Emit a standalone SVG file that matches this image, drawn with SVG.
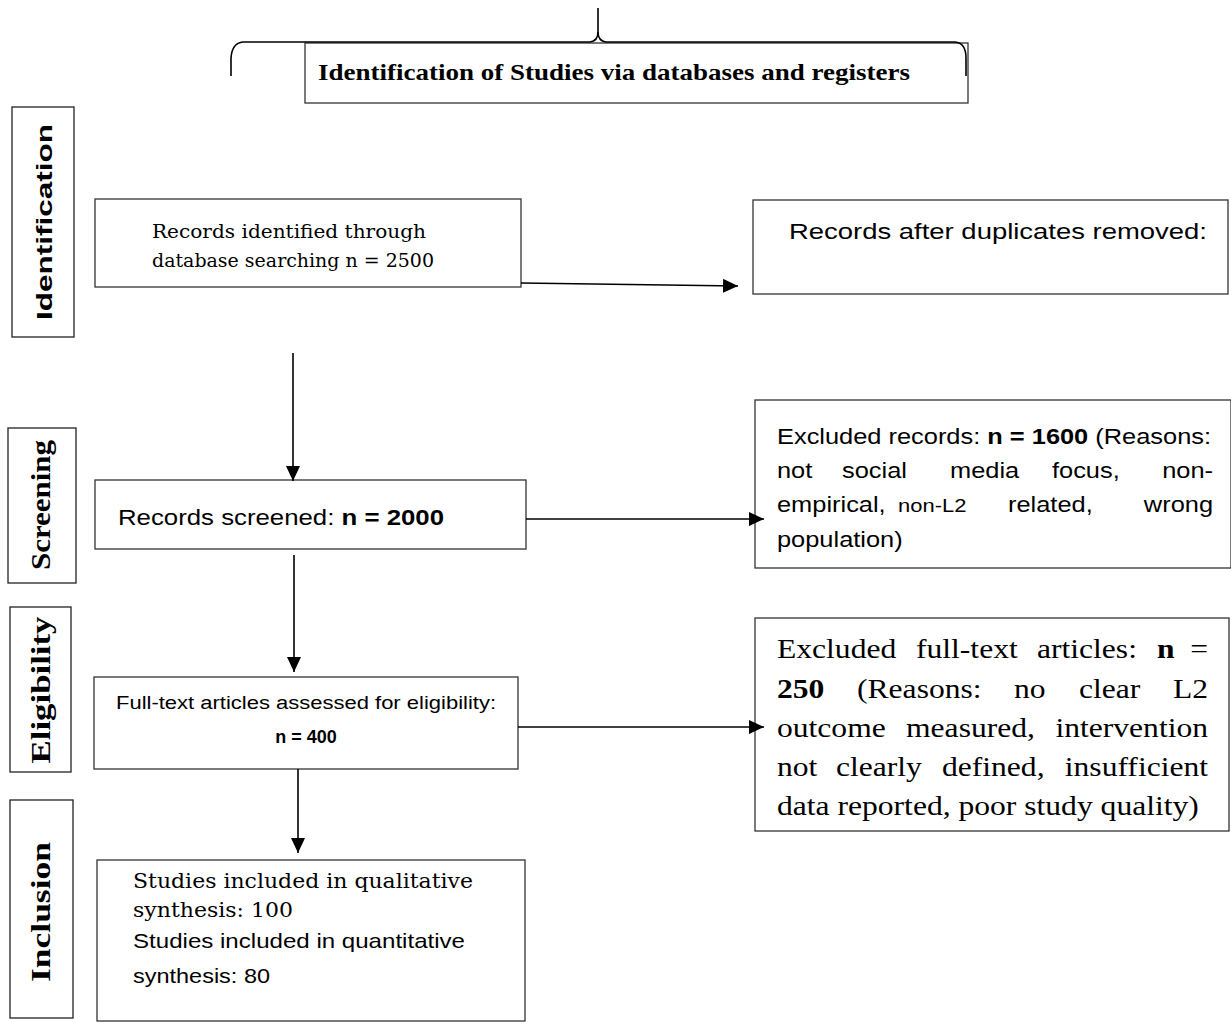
<svg xmlns="http://www.w3.org/2000/svg" width="1231" height="1023" viewBox="0 0 1231 1023">
<style>
.box{fill:#fff;stroke:#333;stroke-width:1.3}
.lbl{fill:#fff;stroke:#222;stroke-width:1.3}
.con{stroke:#000;stroke-width:1.6;fill:none}
.sans{font-family:"Liberation Sans","Open Sans",sans-serif;fill:#000}
.serif{font-family:"Liberation Serif","Times New Roman",serif;fill:#000}
.camb{font-family:"DejaVu Serif","Liberation Serif",serif;fill:#000}
.b{font-weight:bold}
</style>
<defs>
<marker id="ah" markerUnits="userSpaceOnUse" markerWidth="16" markerHeight="14" refX="15" refY="7" orient="auto">
<path d="M0,0 L15,7 L0,14 z" fill="#000"/>
</marker>
</defs>
<rect width="1231" height="1023" fill="#fff"/>

<g id="title">
<rect class="box" x="305" y="43" width="663" height="60"/>
<text class="serif b" x="318" y="80" font-size="24" textLength="592" lengthAdjust="spacingAndGlyphs">Identification of Studies via databases and registers</text>
</g>

<g id="brace">
<path class="con" d="M598,8 L598,32 Q598,41 590,42 L243,42 Q232,43 231,58 L231,76"/>
<path class="con" d="M598,32 Q598,41 606,42 L955,42 Q966,43 966,58 L966,76"/>
</g>

<g id="label-identification">
<rect class="lbl" x="12" y="107" width="62" height="230"/>
<text class="sans b" transform="translate(44,222) rotate(-90)" x="0" y="8" font-size="22" text-anchor="middle" textLength="196" lengthAdjust="spacingAndGlyphs">Identification</text>
</g>
<g id="label-screening">
<rect class="lbl" x="8" y="428" width="68" height="155"/>
<text class="serif b" transform="translate(41,505) rotate(-90)" x="0" y="9" font-size="28" text-anchor="middle" textLength="130" lengthAdjust="spacingAndGlyphs">Screening</text>
</g>
<g id="label-eligibility">
<rect class="lbl" x="10" y="607" width="61" height="165"/>
<text class="serif b" transform="translate(41,690) rotate(-90)" x="0" y="9" font-size="28" text-anchor="middle" textLength="147" lengthAdjust="spacingAndGlyphs">Eligibility</text>
</g>
<g id="label-inclusion">
<rect class="lbl" x="10" y="800" width="63" height="218"/>
<text class="serif b" transform="translate(41,912) rotate(-90)" x="0" y="9" font-size="28" text-anchor="middle" textLength="140" lengthAdjust="spacingAndGlyphs">Inclusion</text>
</g>

<g id="node-identified">
<rect class="box" x="95" y="199" width="426" height="88"/>
<text class="camb" x="152" y="238" font-size="19" textLength="274" lengthAdjust="spacingAndGlyphs">Records identified through</text>
<text class="camb" x="152" y="267" font-size="19" textLength="282" lengthAdjust="spacingAndGlyphs">database searching n = 2500</text>
</g>

<g id="node-duplicates">
<rect class="box" x="753" y="200" width="475" height="94"/>
<text class="sans" x="789" y="239" font-size="22" textLength="418" lengthAdjust="spacingAndGlyphs">Records after duplicates removed:</text>
</g>

<g id="node-screened">
<rect class="box" x="95" y="480" width="431" height="69"/>
<text class="sans" x="118" y="525" font-size="22" textLength="326" lengthAdjust="spacingAndGlyphs">Records screened: <tspan class="b">n = 2000</tspan></text>
</g>

<g id="node-excluded-records">
<rect class="box" x="755" y="400" width="476" height="168"/>
<g transform="translate(777,0) scale(1.155,1)">
<text class="sans" x="0" y="444" font-size="22">Excluded records: <tspan class="b">n = 1600</tspan> (Reasons:</text>
<text class="sans" y="478" font-size="22"><tspan x="0">not</tspan><tspan x="56.3">social</tspan><tspan x="149.8">media</tspan><tspan x="238.1">focus,</tspan><tspan x="377.5" text-anchor="end">non-</tspan></text>
<text class="sans" y="512" font-size="22"><tspan x="0">empirical,</tspan><tspan x="104.8" font-size="19">non-L2</tspan><tspan x="200">related,</tspan><tspan x="377.5" text-anchor="end">wrong</tspan></text>
<text class="sans" x="0" y="547" font-size="22">population)</text>
</g>
</g>

<g id="node-fulltext">
<rect class="box" x="94" y="677" width="424" height="92"/>
<text class="sans" x="306" y="709" font-size="18" text-anchor="middle" textLength="380" lengthAdjust="spacingAndGlyphs">Full-text articles assessed for eligibility:</text>
<text class="sans b" x="306" y="743" font-size="18" text-anchor="middle">n = 400</text>
</g>

<g id="node-excluded-fulltext">
<rect class="box" x="755" y="618" width="474" height="213"/>
<g transform="translate(777,0) scale(1.17,1)">
<text class="serif" y="658" font-size="27"><tspan x="0">Excluded</tspan><tspan x="118.8">full-text</tspan><tspan x="222.2">articles:</tspan><tspan x="324.8" class="b">n</tspan><tspan x="368.4" text-anchor="end">=</tspan></text>
<text class="serif" y="698" font-size="27"><tspan x="0" class="b">250</tspan><tspan x="68.4">(Reasons:</tspan><tspan x="202.6">no</tspan><tspan x="258.1">clear</tspan><tspan x="368.4" text-anchor="end">L2</tspan></text>
<text class="serif" y="737" font-size="27"><tspan x="0">outcome</tspan><tspan x="110.3">measured,</tspan><tspan x="368.4" text-anchor="end">intervention</tspan></text>
<text class="serif" y="776" font-size="27"><tspan x="0">not</tspan><tspan x="50.4">clearly</tspan><tspan x="141">defined,</tspan><tspan x="368.4" text-anchor="end">insufficient</tspan></text>
<text class="serif" x="0" y="815" font-size="27">data reported, poor study quality)</text>
</g>
</g>

<g id="node-included">
<rect class="box" x="97" y="860" width="428" height="161"/>
<text class="camb" x="133" y="888" font-size="20" textLength="340" lengthAdjust="spacingAndGlyphs">Studies included in qualitative</text>
<text class="camb" x="133" y="917" font-size="20" textLength="160" lengthAdjust="spacingAndGlyphs">synthesis: 100</text>
<text class="sans" x="133" y="948" font-size="21" textLength="332" lengthAdjust="spacingAndGlyphs">Studies included in quantitative</text>
<text class="sans" x="133" y="983" font-size="21" textLength="137" lengthAdjust="spacingAndGlyphs">synthesis: 80</text>
</g>

<g id="connectors">
<line class="con" x1="521" y1="283" x2="738" y2="286" marker-end="url(#ah)"/>
<line class="con" x1="293" y1="353" x2="293" y2="481" marker-end="url(#ah)"/>
<line class="con" x1="526" y1="519" x2="764" y2="519" marker-end="url(#ah)"/>
<line class="con" x1="294" y1="555" x2="294" y2="672" marker-end="url(#ah)"/>
<line class="con" x1="518" y1="727" x2="764" y2="727" marker-end="url(#ah)"/>
<line class="con" x1="298" y1="769" x2="298" y2="853" marker-end="url(#ah)"/>
</g>
</svg>
